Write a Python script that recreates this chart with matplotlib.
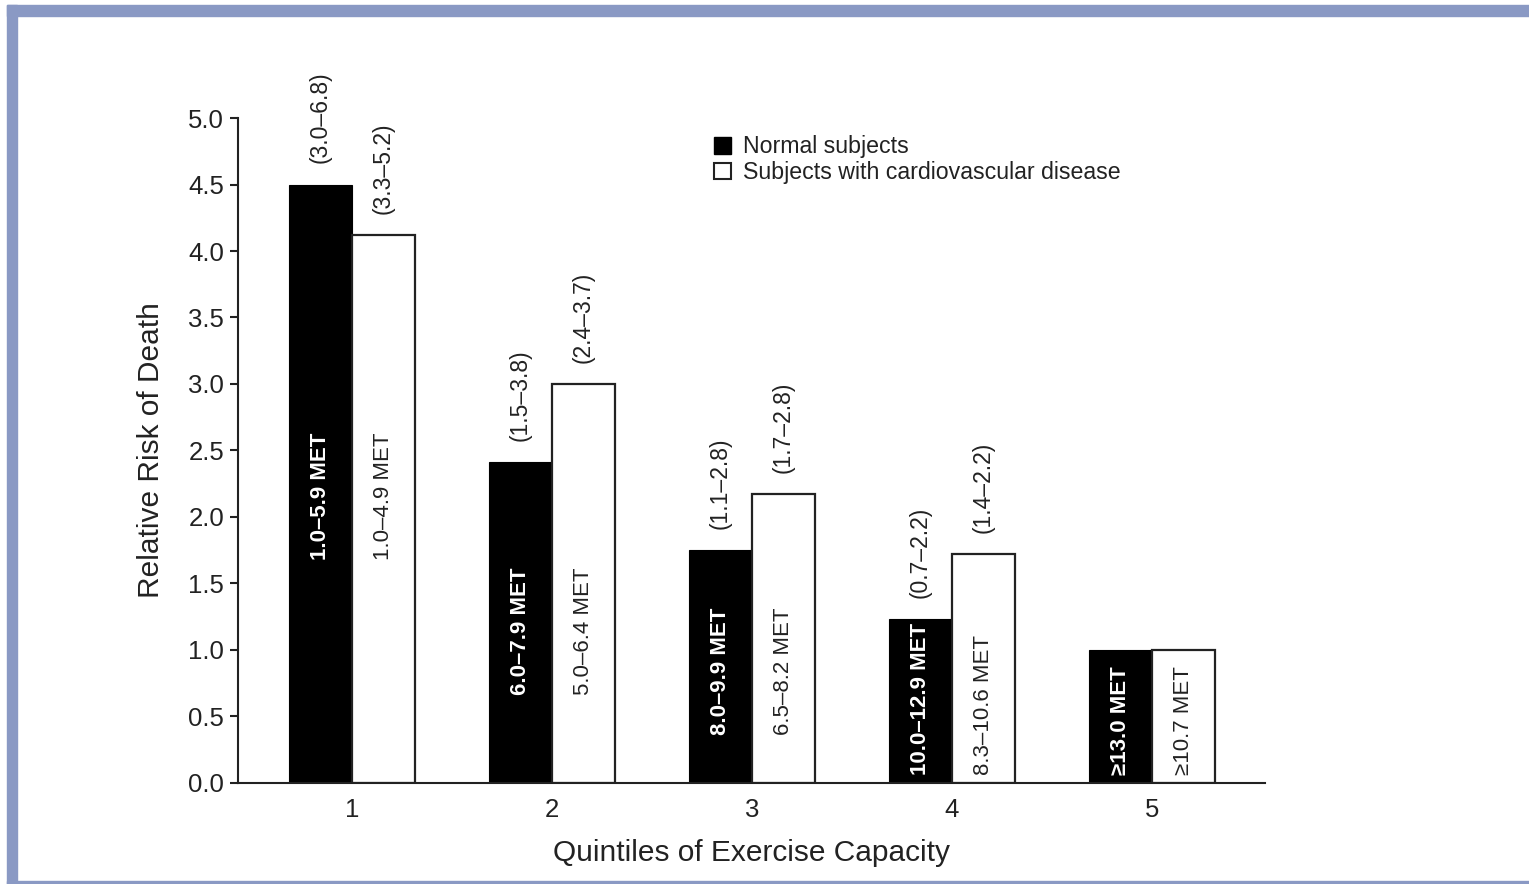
import numpy as np
import matplotlib.pyplot as plt
from matplotlib.patches import Patch, Rectangle

plt.rcParams["font.family"] = ["Liberation Sans", "DejaVu Sans"]

quintiles = [1, 2, 3, 4, 5]
normal_rr = [4.50, 2.41, 1.75, 1.23, 1.00]
cvd_rr = [4.12, 3.00, 2.17, 1.72, 1.00]
normal_ci = ["(3.0\u20136.8)", "(1.5\u20133.8)", "(1.1\u20132.8)", "(0.7\u20132.2)", ""]
cvd_ci = ["(3.3\u20135.2)", "(2.4\u20133.7)", "(1.7\u20132.8)", "(1.4\u20132.2)", ""]
normal_met = ["1.0\u20135.9 MET", "6.0\u20137.9 MET", "8.0\u20139.9 MET", "10.0\u201312.9 MET", "\u226513.0 MET"]
cvd_met = ["1.0\u20134.9 MET", "5.0\u20136.4 MET", "6.5\u20138.2 MET", "8.3\u201310.6 MET", "\u226510.7 MET"]

# where the MET labels start inside the bars
met_base = [1.68, 0.66, 0.36, 0.06, 0.06]

fig = plt.figure(figsize=(15.29, 8.84), dpi=100, facecolor="white")
ax = fig.add_axes([0.1557, 0.1143, 0.6716, 0.7522])

x = np.array(quintiles)
w = 0.315
ax.bar(x - w/2, normal_rr, width=w, color="black", edgecolor="black", lw=0.8)
ax.bar(x + w/2, cvd_rr, width=w, color="white", edgecolor="#222222", lw=1.6)

for i in range(len(x)):
    ax.text(x[i] - w/2, normal_rr[i] + 0.16, normal_ci[i], rotation=90,
            ha="center", va="bottom", fontsize=16.5, color="#222222")
    ax.text(x[i] + w/2, cvd_rr[i] + 0.16, cvd_ci[i], rotation=90,
            ha="center", va="bottom", fontsize=16.5, color="#222222")
    ax.text(x[i] - w/2, met_base[i], normal_met[i], rotation=90,
            ha="center", va="bottom", fontsize=16, color="white", fontweight="bold")
    ax.text(x[i] + w/2, met_base[i], cvd_met[i], rotation=90,
            ha="center", va="bottom", fontsize=16, color="#222222")

ax.set_xlim(0.43, 5.565)
ax.set_ylim(0, 5)
ax.set_yticks(np.arange(0, 5.01, 0.5))
ax.set_yticklabels([f"{v:.1f}" for v in np.arange(0, 5.01, 0.5)])
ax.set_xticks(x)
ax.set_xticklabels([str(q) for q in quintiles])

for s in ["top", "right"]:
    ax.spines[s].set_visible(False)
for s in ["left", "bottom"]:
    ax.spines[s].set_linewidth(1.5)
    ax.spines[s].set_color("#222222")

ax.tick_params(axis="y", length=6, width=1.5, pad=4, labelsize=18.5, colors="#222222")
ax.tick_params(axis="x", length=0, pad=11, labelsize=18.5, colors="#222222")

ax.set_xlabel("Quintiles of Exercise Capacity", fontsize=21.5, color="#222222", labelpad=12)
ax.set_ylabel("Relative Risk of Death", fontsize=21.5, color="#222222", labelpad=17)

handles = [Patch(facecolor="black", edgecolor="black", label="Normal subjects"),
           Patch(facecolor="white", edgecolor="#222222", lw=1.5,
                 label="Subjects with cardiovascular disease")]
ax.legend(handles=handles, loc="upper left", bbox_to_anchor=(0.463, 0.974),
          frameon=False, fontsize=16.7, handlelength=0.75, handleheight=0.75,
          handletextpad=0.5, labelspacing=0.12, borderpad=0, borderaxespad=0,
          labelcolor="#222222")

# blue frame around the figure
frame = "#8a99c4"
fig.patches.append(Rectangle((7/1529, 0), 10/1529, 1 - 5/884, transform=fig.transFigure,
                             color=frame, zorder=0))
fig.patches.append(Rectangle((7/1529, 1 - 16/884), 1, 11/884, transform=fig.transFigure,
                             color=frame, zorder=0))
fig.patches.append(Rectangle((7/1529, 0), 1, 3/884, transform=fig.transFigure,
                             color=frame, zorder=0))

fig.savefig("out.png", dpi=100, facecolor="white")
